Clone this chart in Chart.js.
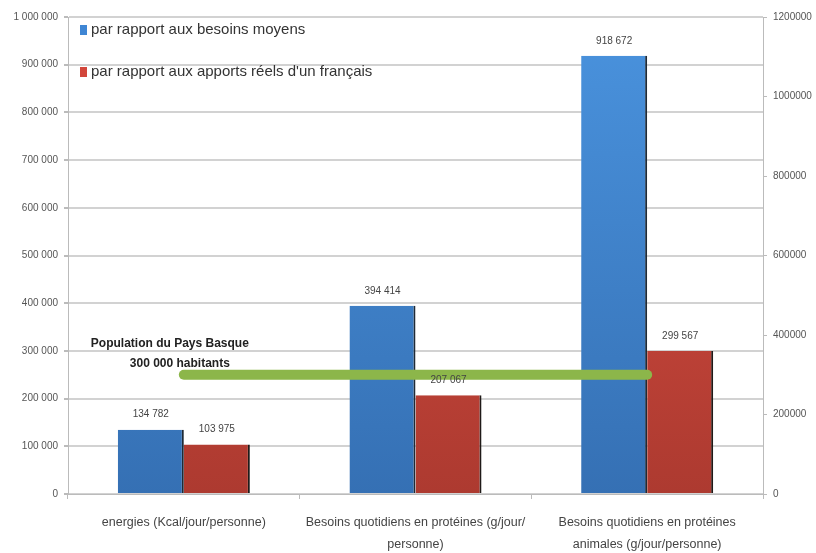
<!DOCTYPE html>
<html>
<head>
<meta charset="utf-8">
<script src="https://cdn.jsdelivr.net/npm/chart.js@4"></script>
<style>
  html, body { margin: 0; padding: 0; background: #fff; }
  #wrap { width: 816px; height: 553px; }
</style>
</head>
<body>
<div id="wrap"><canvas id="chart" width="816" height="553"></canvas></div>
<script>
var categories = [
    "energies (Kcal/jour/personne)",
    ["Besoins quotidiens en protéines (g/jour/", "personne)"],
    ["Besoins quotidiens en protéines", "animales (g/jour/personne)"]
];
var besoinsMoyens = [134782, 394414, 918672];
var apportsReels = [103975, 207067, 299567];
var population = [300000, 300000, 300000];
var leftTicks = { max: 1000000, step: 100000 };
var rightTicks = { max: 1200000, step: 200000 };
var seriesNames = ["par rapport aux besoins moyens", "par rapport aux apports réels d'un français"];
var popText = ["Population du Pays Basque", "300 000 habitants"];

var FONT = "'Liberation Sans', Arial, sans-serif";

function spaced(v) {
    return String(v).replace(/\B(?=(\d{3})+(?!\d))/g, ' ');
}

function grad(ctx, top, bottom) {
    var area = ctx.chart.chartArea;
    if (!area) return top;
    var g = ctx.chart.ctx.createLinearGradient(0, area.top, 0, area.bottom);
    g.addColorStop(0, top);
    g.addColorStop(1, bottom);
    return g;
}

// value labels, legend and population note
var extras = {
    id: 'extras',
    afterDatasetsDraw: function (chart) {
        var c = chart.ctx;
        var area = chart.chartArea;
        c.save();
        c.font = '10px ' + FONT;
        c.fillStyle = '#444';
        c.textAlign = 'center';
        c.textBaseline = 'bottom';
        [1, 2].forEach(function (di) {
            var meta = chart.getDatasetMeta(di);
            meta.data.forEach(function (bar, i) {
                c.fillText(spaced(chart.data.datasets[di].data[i]), bar.x, bar.y - 10);
            });
        });

        // legend
        var cols = ['#3f86d4', '#d2463b'];
        c.font = '15px ' + FONT;
        c.textAlign = 'left';
        c.textBaseline = 'middle';
        seriesNames.forEach(function (name, i) {
            var y = area.top + 13 + i * 42;
            c.fillStyle = cols[i];
            c.fillRect(area.left + 12, y - 5, 7, 10);
            c.fillStyle = '#333';
            c.fillText(name, area.left + 23, y);
        });

        // population note
        var yr = chart.scales.y2.getPixelForValue(population[0]);
        var xc = chart.scales.x.getPixelForValue(0);
        c.font = 'bold 12px ' + FONT;
        c.textAlign = 'center';
        c.fillStyle = '#222';
        c.fillText(popText[0], xc - 14, yr - 31);
        c.fillText(popText[1], xc - 4, yr - 11);
        c.restore();
    }
};

new Chart(document.getElementById('chart'), {
    data: {
        labels: categories,
        datasets: [
            {
                type: 'line',
                label: 'Population',
                data: population,
                yAxisID: 'y2',
                borderColor: '#8cb64a',
                borderWidth: 10,
                borderCapStyle: 'round',
                pointRadius: 0,
                order: 0
            },
            {
                type: 'bar',
                label: seriesNames[0],
                data: besoinsMoyens,
                yAxisID: 'y',
                backgroundColor: function (ctx) { return grad(ctx, '#4a93de', '#3570b4'); },
                borderColor: '#1f2a36',
                borderWidth: { top: 0, left: 0, bottom: 0, right: 2 },
                borderSkipped: false,
                barPercentage: 1,
                categoryPercentage: 0.57,
                order: 1
            },
            {
                type: 'bar',
                label: seriesNames[1],
                data: apportsReels,
                yAxisID: 'y',
                backgroundColor: function (ctx) { return grad(ctx, '#dc5044', '#ad3a30'); },
                borderColor: '#1f1a18',
                borderWidth: { top: 0, left: 0, bottom: 0, right: 2 },
                borderSkipped: false,
                barPercentage: 1,
                categoryPercentage: 0.57,
                order: 1
            }
        ]
    },
    options: {
        responsive: false,
        animation: false,
        layout: { padding: { top: 17, left: 0, right: 0, bottom: 0 } },
        plugins: {
            legend: { display: false },
            tooltip: { enabled: false }
        },
        scales: {
            x: {
                offset: true,
                grid: { drawOnChartArea: false, drawTicks: true, tickLength: 5, color: '#bbb', offset: true },
                border: { color: '#bbb', width: 1 },
                ticks: { color: '#444', font: { family: FONT, size: 12.5, lineHeight: 1.8 }, padding: 12, maxRotation: 0, autoSkip: false },
                afterFit: function (s) { s.height = 59; }
            },
            y: {
                position: 'left',
                min: 0,
                max: leftTicks.max,
                ticks: {
                    stepSize: leftTicks.step,
                    color: '#555',
                    font: { family: FONT, size: 10 },
                    padding: 6,
                    callback: function (v) { return spaced(v); }
                },
                grid: { color: '#d2d2d2', lineWidth: 2, tickLength: 4, tickColor: '#bbb' },
                border: { color: '#bbb', width: 1 },
                afterFit: function (s) { s.width = 68; }
            },
            y2: {
                position: 'right',
                min: 0,
                max: rightTicks.max,
                ticks: {
                    stepSize: rightTicks.step,
                    color: '#555',
                    font: { family: FONT, size: 10 },
                    padding: 6,
                    callback: function (v) { return String(v); }
                },
                grid: { drawOnChartArea: false, tickLength: 4, color: '#bbb' },
                border: { color: '#bbb', width: 1 },
                afterFit: function (s) { s.width = 53; }
            }
        }
    },
    plugins: [extras]
});
</script>
</body>
</html>
